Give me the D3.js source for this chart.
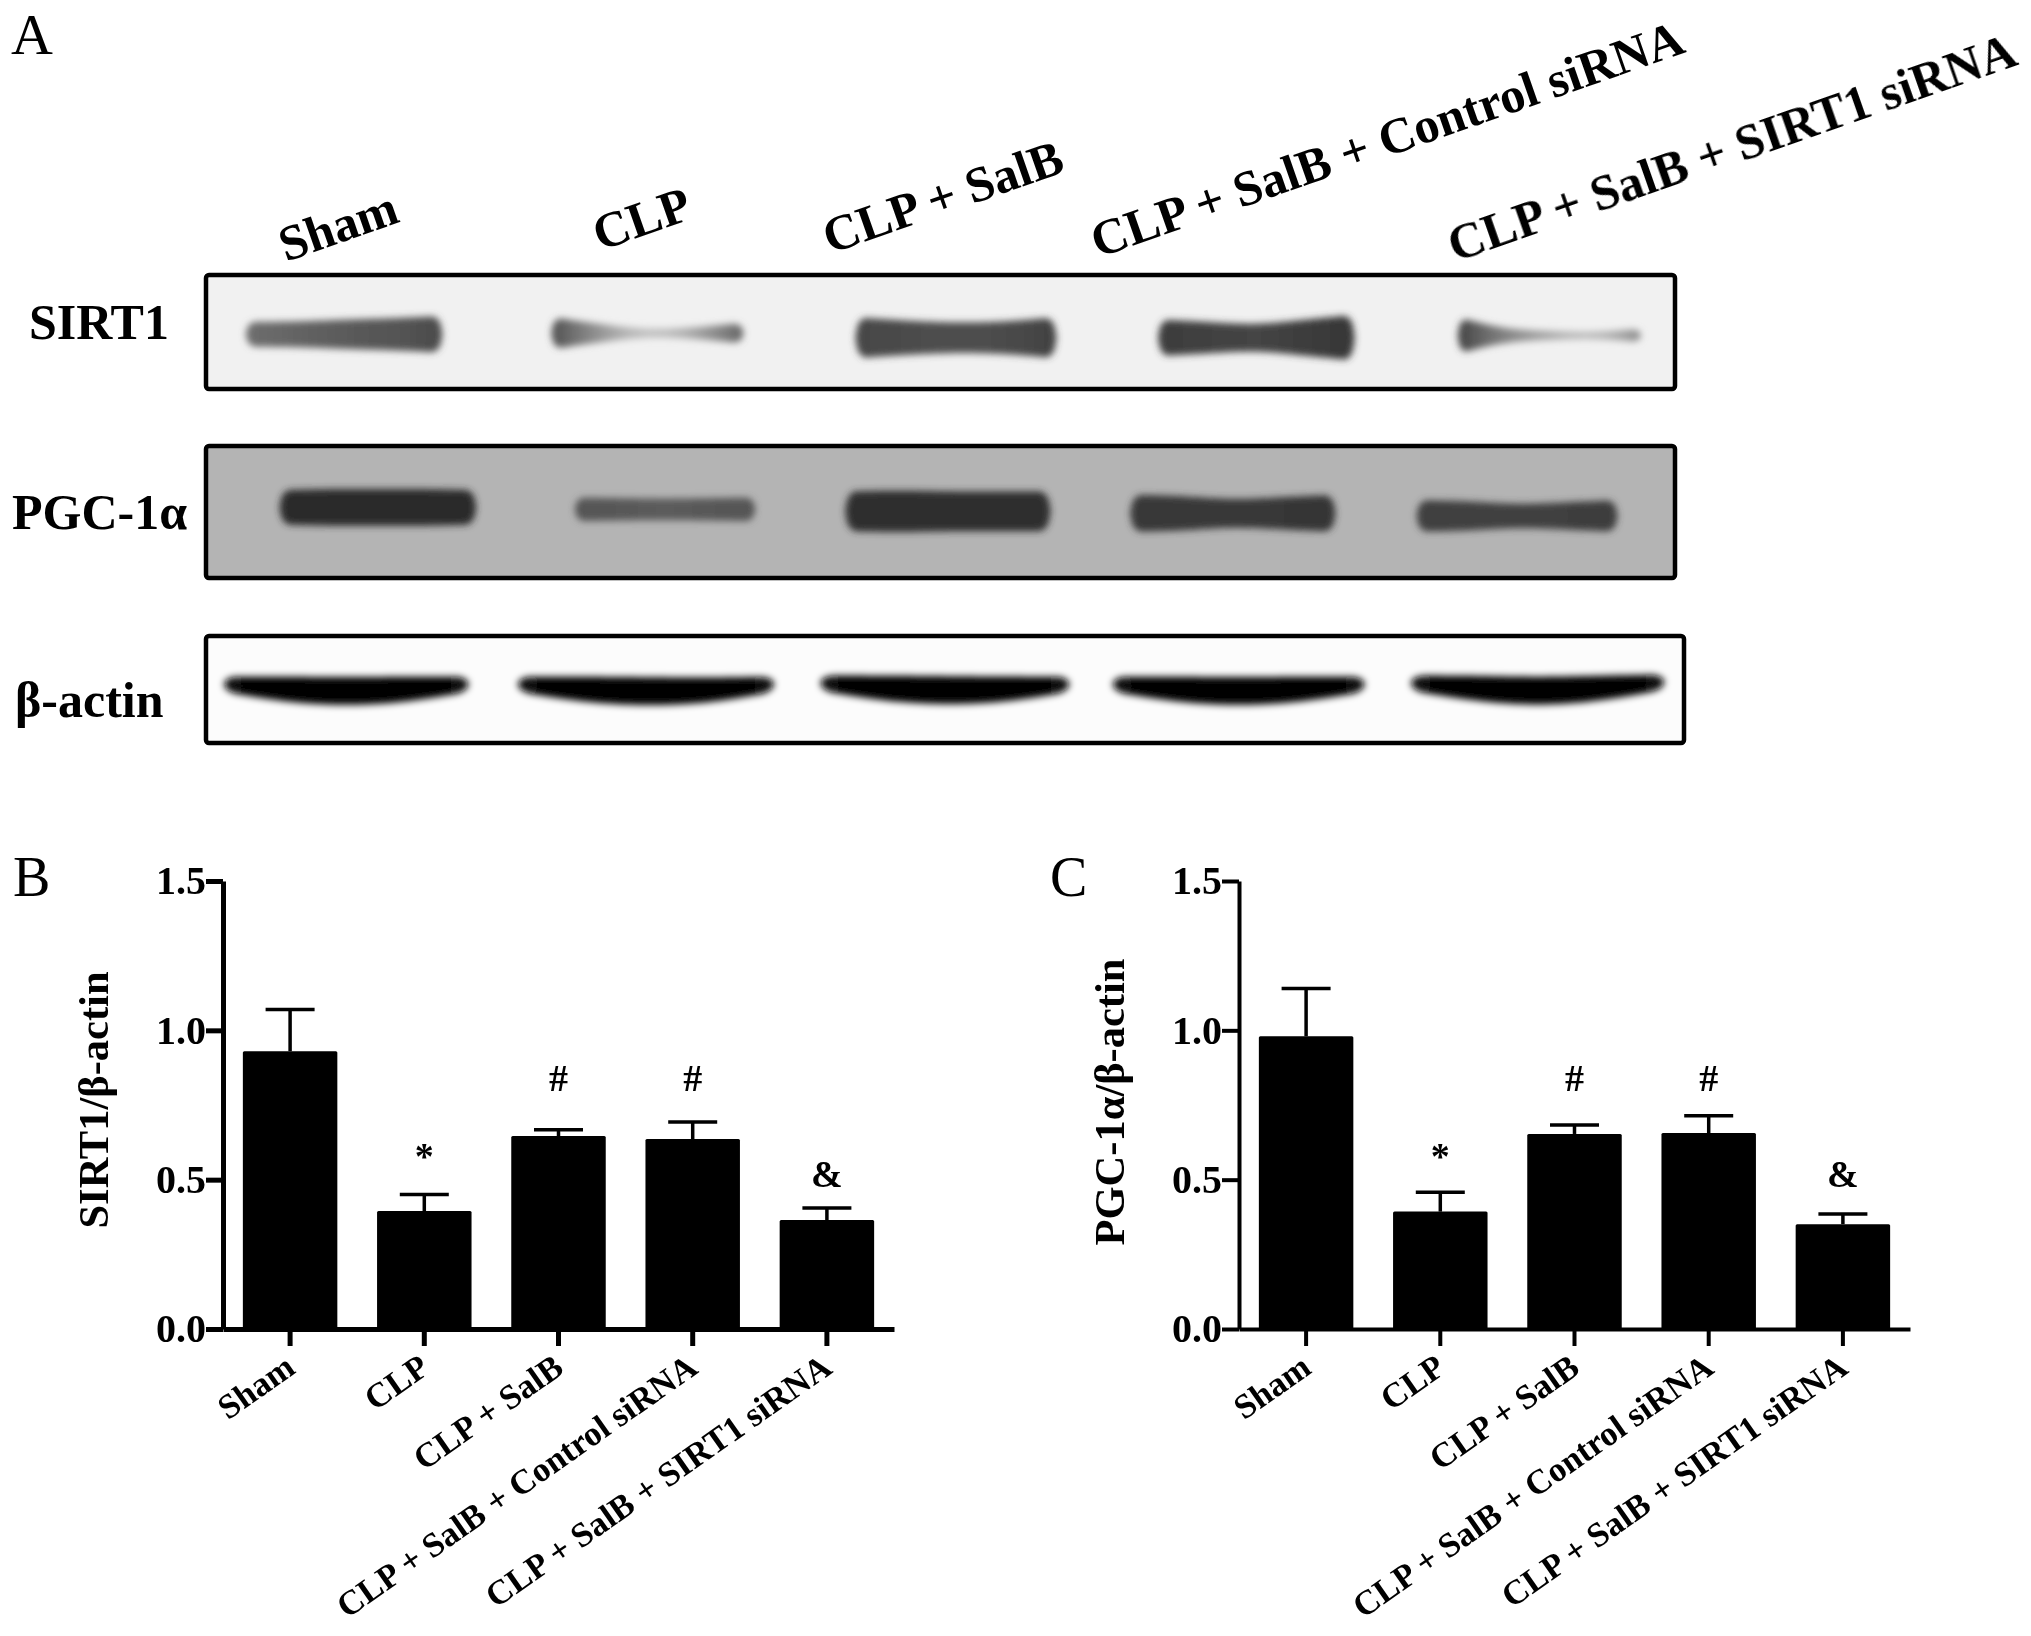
<!DOCTYPE html>
<html><head><meta charset="utf-8">
<script src="https://cdn.jsdelivr.net/npm/d3@7"></script>
<style>html,body{margin:0;background:#fff}svg{display:block}text{font-family:"Liberation Serif",serif;fill:#000}</style>
</head><body><svg id="c" width="2031" height="1636"></svg>
<script>
const categories = ["Sham","CLP","CLP + SalB","CLP + SalB + Control siRNA","CLP + SalB + SIRT1 siRNA"];
const sirt1Means = [0.93,0.395,0.646,0.636,0.365];
const sirt1Upper = [1.07,0.45,0.667,0.693,0.405];
const pgcMeans = [0.98,0.393,0.653,0.656,0.351];
const pgcUpper = [1.14,0.458,0.683,0.714,0.385];
const yTicks = [0,0.5,1,1.5];
const marks = ["","*","#","#","&"];
const markValues = [0,0.565,0.825,0.825,0.505];

// Blot bands: lane extent in % of blot width, centre in % of blot height, thickness in % of height,
// grey at five stations across the lane.
const sirtLanes = [[2.7,16.1],[23.5,36.6],[44.2,57.9],[64.8,78.2],[85.2,97.7]];
const sirtCentre = [52,51,55,55,53];
const sirtThick = [[22,22,26,28,32],[28,16,6,10,18],[36,30,26,28,36],[32,28,22,32,40],[32,11,8,5,12]];
const sirtGrey = [[110,100,90,85,75],[80,150,210,170,100],[70,75,80,75,65],[60,65,70,60,55],[65,135,170,200,140]];
const pgcLanes = [[5.0,18.4],[25.1,37.4],[43.5,57.5],[62.9,76.9],[82.4,96.1]];
const pgcCentre = [46.5,48,49.5,51,53];
const pgcThick = [[26,28,28,28,26],[18,17,16,17,18],[30,32,30,30,30],[28,27,20,25,28],[24,23,17,21,24]];
const pgcGrey = [[42,42,42,42,42],[85,88,92,88,85],[48,46,48,46,46],[58,56,58,54,54],[64,62,66,62,60]];
const actinLanes = [[1.2,17.9],[21.2,38.7],[41.8,58.8],[61.7,78.9],[82.0,99.3]];
const actinCentre = [50,50,49,50,49];
const actinBow = [[-5,0,2,0,-5],[-5,0,2,1,-5],[-5,0,2,1,-4],[-5,0,2,0,-5],[-5,0,3,0,-6]];
const actinThick = [[14,24,27,24,14],[14,24,27,24,14],[14,24,27,24,14],[14,24,27,24,14],[14,24,27,24,14]];
const actinGrey = [[8,4,2,4,8],[8,4,2,4,8],[8,4,2,4,8],[8,4,2,4,8],[8,4,2,4,8]];

const svg = d3.select("#c");
const defs = svg.append("defs");
defs.append("filter").attr("id","blur").attr("x","-10%").attr("y","-80%").attr("width","120%").attr("height","260%")
  .append("feGaussianBlur").attr("stdDeviation",3.6);
defs.append("filter").attr("id","soft").attr("x","-5%").attr("y","-5%").attr("width","110%").attr("height","110%")
  .append("feGaussianBlur").attr("stdDeviation",0.6);

const root = svg.append("g").attr("filter","url(#soft)");

function blot(id,x0,x1,y0,y1,fill,lanes,centre,thick,grey,bow){
  const x = d3.scaleLinear().domain([0,100]).range([206,1675]);
  const y = d3.scaleLinear().domain([0,100]).range([y0,y1]);
  const g = root.append("g");
  const clip = defs.append("clipPath").attr("id","clip"+id);
  clip.append("rect").attr("x",x0).attr("y",y0).attr("width",x1-x0).attr("height",y1-y0);
  g.append("rect").attr("x",x0).attr("y",y0).attr("width",x1-x0).attr("height",y1-y0).attr("fill",fill);
  const inner = g.append("g").attr("clip-path",`url(#clip${id})`);
  lanes.forEach((lane,i)=>{
    const st = d3.scaleLinear().domain([0,4]).range(lane);
    const gid = `g${id}${i}`;
    const lg = defs.append("linearGradient").attr("id",gid);
    const greyAt = d3.interpolateBasis(grey[i]);
    d3.range(0,1.001,0.1).forEach(t=>{const v=greyAt(t);lg.append("stop").attr("offset",t).attr("stop-color",d3.rgb(v,v,v));});
    const thickAt = d3.interpolateBasis(thick[i]);
    const offAt = bow? d3.interpolateBasis(bow[i]) : ()=>0;
    const cap = k=>{const e=Math.min(k,4-k)/0.22; return e>=1?1:Math.sqrt(Math.max(0,1-(1-e)*(1-e)));};
    const pts = d3.range(0,4.001,0.04);
    const area = d3.area()
      .x(k=>x(st(k)))
      .y0(k=>y(centre[i]+offAt(k/4)-thickAt(k/4)*cap(k)/2))
      .y1(k=>y(centre[i]+offAt(k/4)+thickAt(k/4)*cap(k)/2));
    inner.append("path").datum(pts).attr("d",area).attr("fill",`url(#${gid})`)
      .attr("filter","url(#blur)");
  });
  g.append("rect").attr("x",x0).attr("y",y0).attr("width",x1-x0).attr("height",y1-y0)
    .attr("rx",3).attr("fill","none").attr("stroke","#000").attr("stroke-width",4.5);
}
blot("a",206,1675,275,389,"#f1f1f1",sirtLanes,sirtCentre,sirtThick,sirtGrey);
blot("b",206,1675,446,578,"#b4b4b4",pgcLanes,pgcCentre,pgcThick,pgcGrey);
blot("c",206,1684,636,743,"#fcfcfc",actinLanes,actinCentre,actinThick,actinGrey,actinBow);

// panel letters
[["A",11,54,58],["B",13,896,56],["C",1050,896,56]].forEach(d=>
  root.append("text").text(d[0]).attr("x",d[1]).attr("y",d[2]).attr("font-size",d[3]));

// blot row labels
[["SIRT1",29,339],["PGC-1α",12,529],["β-actin",15,717]].forEach(d=>
  root.append("text").text(d[0]).attr("x",d[1]).attr("y",d[2]).attr("font-size",50).attr("font-weight","bold"));

// blot column labels
const topLabelAnchors = [[286,262],[600,251],[830,254],[1098,258],[1455,262]];
categories.forEach((c,i)=>
  root.append("text").text(c).attr("font-size",50).attr("font-weight","bold")
    .attr("transform",`translate(${topLabelAnchors[i]}) rotate(-19.3)`));

function chart(o){
  const x = d3.scaleBand().domain(categories).range([o.left,o.left+671]).paddingInner(0.296).paddingOuter(0.148);
  const y = d3.scaleLinear().domain([0,1.5]).range([1329,881]);
  const g = root.append("g");
  const cap = 24.5;
  categories.forEach((c,i)=>{
    const cx = x(c)+x.bandwidth()/2;
    g.append("line").attr("x1",cx).attr("x2",cx).attr("y1",y(o.mean[i])).attr("y2",y(o.upper[i])).attr("stroke","#000").attr("stroke-width",3.5);
    g.append("line").attr("x1",cx-cap).attr("x2",cx+cap).attr("y1",y(o.upper[i])).attr("y2",y(o.upper[i])).attr("stroke","#000").attr("stroke-width",3.5);
    g.append("rect").attr("x",x(c)).attr("y",y(o.mean[i])).attr("width",x.bandwidth()).attr("height",y(0)-y(o.mean[i])).attr("fill","#000").attr("rx",1.5);
    if(marks[i]) g.append("text").text(marks[i]).attr("x",cx).attr("y",y(markValues[i])).attr("text-anchor","middle")
      .attr("dominant-baseline","middle").attr("font-size",38).attr("font-weight","bold");
  });
  const ax = d3.axisLeft(y).tickValues(yTicks).tickFormat(d3.format(".1f")).tickSizeInner(17).tickSizeOuter(0).tickPadding(0);
  const ag = g.append("g").attr("transform",`translate(${o.left},0)`).call(ax);
  ag.selectAll("text").attr("font-size",40).attr("font-weight","bold").attr("font-family","Liberation Serif");
  ag.selectAll("path,line").attr("stroke","#000").attr("stroke-width",o.lw);
  const bx = d3.axisBottom(x).tickSizeInner(17).tickSizeOuter(0).tickFormat("");
  const bg = g.append("g").attr("transform",`translate(0,${y(0)})`).call(bx);
  bg.selectAll("path,line").attr("stroke","#000").attr("stroke-width",o.lw);
  categories.forEach(c=>{
    const cx = x(c)+x.bandwidth()/2;
    g.append("text").text(c).attr("text-anchor","end").attr("font-size",34.5).attr("font-weight","bold")
      .attr("transform",`translate(${cx+7},${y(0)+43}) rotate(-35)`);
  });
  g.append("text").text(o.title).attr("text-anchor","middle").attr("font-size",o.titleSize).attr("font-weight","bold")
    .attr("transform",`translate(${o.titleX},${o.titleY}) rotate(-90)`);
}
chart({left:223,mean:sirt1Means,upper:sirt1Upper,title:"SIRT1/β-actin",titleX:108,titleY:1100,titleSize:42.5,lw:5});
chart({left:1239,mean:pgcMeans,upper:pgcUpper,title:"PGC-1α/β-actin",titleX:1124,titleY:1102,titleSize:42.5,lw:4});
</script></body></html>
